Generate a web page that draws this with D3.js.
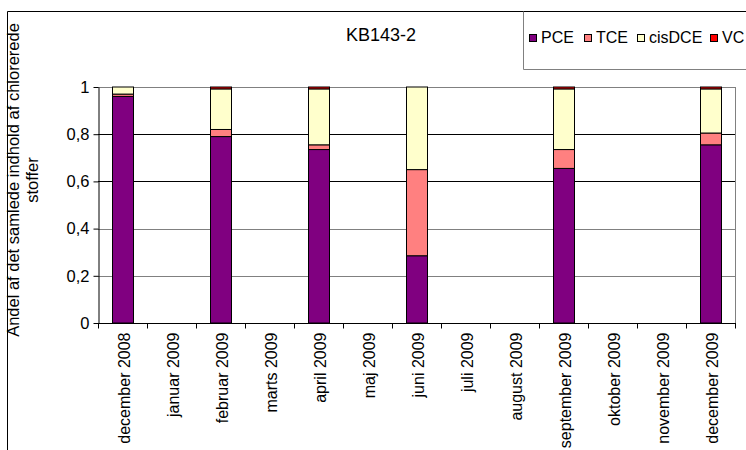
<!DOCTYPE html>
<html><head><meta charset="utf-8">
<script src="https://cdn.jsdelivr.net/npm/d3@7"></script>
<style>body{margin:0;background:#fff}svg{display:block;font-family:Arial,"Liberation Sans",sans-serif}</style>
</head><body>
<script>
const categories = ["december 2008","januar 2009","februar 2009","marts 2009","april 2009","maj 2009","juni 2009","juli 2009","august 2009","september 2009","oktober 2009","november 2009","december 2009"];
const PCE    = [0.96,0,0.79,0,0.735,0,0.285,0,0,0.655,0,0,0.755];
const TCE    = [0.01,0,0.03,0,0.02,0,0.365,0,0,0.08,0,0,0.05];
const cisDCE = [0.03,0,0.172,0,0.237,0,0.35,0,0,0.257,0,0,0.187];
const VC     = [0,0,0.008,0,0.008,0,0,0,0,0.008,0,0,0.008];
const seriesNames = ["PCE","TCE","cisDCE","VC"];
const seriesColors = ["#800080","#FF8080","#FFFFCC","#FF0000"];
const yTicks = [0,0.2,0.4,0.6,0.8,1];
const yTickLabels = ["0","0,2","0,4","0,6","0,8","1"];
const title = "KB143-2";
const yTitle = ["Andel af det samlede indhold af chlorerede","stoffer"];

const W=746,H=450,FS=16.5;
const svg=d3.select("body").append("svg").attr("width",W).attr("height",H);
const m={l:98,r:735,t:87,b:323};
const x=d3.scaleBand().domain(categories).range([m.l,m.r]).paddingInner(0.57).paddingOuter(0.285);
const xb=d3.scaleBand().domain(categories).range([m.l,m.r]);
const y=d3.scaleLinear().domain([0,1]).range([m.b,m.t]);

// outer frame
svg.append("path").attr("d",`M7.5,${H}V11.5H${W}`).attr("fill","none").attr("stroke","#000");

// gridlines
const gridCol={0.2:"#808080",0.4:"#808080",0.6:"#000",0.8:"#000",1:"#808080"};
svg.append("g").selectAll("line").data(yTicks.slice(1)).join("line")
 .attr("x1",m.l).attr("x2",m.r).attr("y1",d=>Math.round(y(d))+0.5).attr("y2",d=>Math.round(y(d))+0.5)
 .attr("stroke",d=>gridCol[d]);
// right border
svg.append("line").attr("x1",m.r+0.5).attr("x2",m.r+0.5).attr("y1",m.t).attr("y2",m.b).attr("stroke","#808080");

// stacks
const rows=categories.map((c,i)=>({cat:c,PCE:PCE[i],TCE:TCE[i],cisDCE:cisDCE[i],VC:VC[i]}));
const stack=d3.stack().keys(seriesNames)(rows);
stack.forEach((s,k)=>{
  svg.append("g").selectAll("rect").data(s.filter(d=>d[1]-d[0]>0)).join("rect")
   .attr("x",d=>Math.round(x(d.data.cat))+0.5).attr("width",Math.round(x.bandwidth()))
   .attr("y",d=>y(d[1])).attr("height",d=>y(d[0])-y(d[1]))
   .attr("fill",seriesColors[k]).attr("stroke","#000").attr("stroke-width",1);
});

// y axis
const ya=svg.append("g").attr("transform",`translate(${m.l+0.5},0)`)
 .call(d3.axisLeft(y).tickValues(yTicks).tickFormat((d,i)=>yTickLabels[i]).tickSize(5).tickSizeOuter(0));
ya.select(".domain").attr("stroke","#000");
ya.selectAll(".tick line").attr("stroke","#000");
ya.selectAll("text").attr("font-size",FS).attr("fill","#000").attr("font-family","Arial,'Liberation Sans',sans-serif").attr("x",-9);

// x axis
const xa=svg.append("g").attr("transform",`translate(0,${m.b+0.5})`);
xa.append("line").attr("x1",m.l).attr("x2",m.r+1).attr("stroke","#000");
const bounds=categories.map(c=>xb(c)).concat([m.r]);
xa.selectAll("line.t").data(bounds).join("line").attr("class","t")
 .attr("x1",d=>Math.round(d)+0.5).attr("x2",d=>Math.round(d)+0.5).attr("y1",0).attr("y2",5).attr("stroke","#000");
xa.selectAll("text").data(categories).join("text")
 .attr("transform",d=>`translate(${xb(d)+xb.bandwidth()/2+7},9) rotate(-90)`)
 .attr("text-anchor","end").attr("font-size",16).text(d=>d);

// title
svg.append("text").attr("x",381).attr("y",41).attr("text-anchor","middle").attr("font-size",18).text(title);

// y title
yTitle.forEach((t,i)=>{
  svg.append("text").attr("transform",`translate(${19+i*19},${180}) rotate(-90)`)
   .attr("text-anchor","middle").attr("font-size",FS).text(t);
});

// legend
const lg=svg.append("g");
lg.append("path").attr("d",`M523.5,11.5V69.5H${W}`).attr("fill","none").attr("stroke","#808080");
const lx=[529,584,637,710];
seriesNames.forEach((n,i)=>{
  lg.append("rect").attr("x",lx[i]+0.5).attr("y",34.5).attr("width",7).attr("height",7)
   .attr("fill",seriesColors[i]).attr("stroke","#000");
  lg.append("text").attr("x",lx[i]+12).attr("y",43).attr("font-size",16).text(n);
});
</script>
</body></html>
